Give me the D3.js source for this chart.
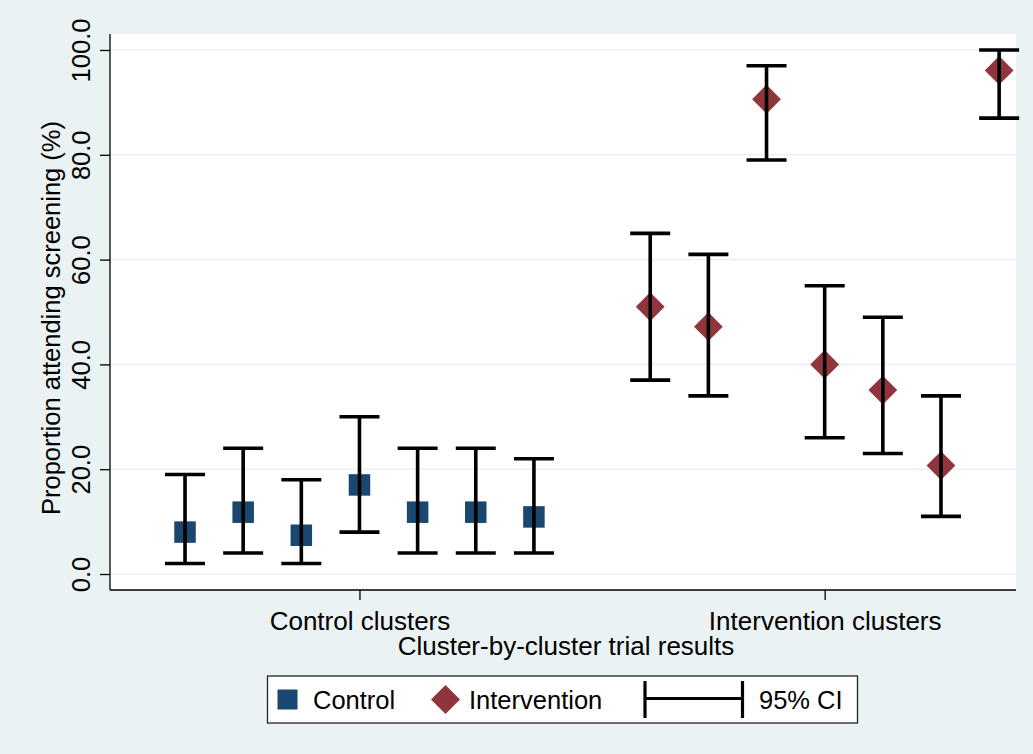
<!DOCTYPE html>
<html>
<head>
<meta charset="utf-8">
<script src="https://cdn.jsdelivr.net/npm/d3@7"></script>
<style>
  html, body { margin: 0; padding: 0; background: #eaf2f3; }
  svg { display: block; }
  text { font-family: "Liberation Sans", Arial, sans-serif; fill: #000; }
</style>
</head>
<body>
<svg id="chart" width="1033" height="754"></svg>
<script>
// Cluster-by-cluster attendance with 95% confidence intervals
const controlPos = [1, 2, 3, 4, 5, 6, 7];
const controlEst = [8.0, 11.8, 7.4, 17.0, 11.8, 11.8, 10.9];
const controlLo  = [2.0, 4.0, 2.0, 8.0, 4.0, 4.0, 4.0];
const controlHi  = [19.0, 24.0, 18.0, 30.0, 24.0, 24.0, 22.0];

const interventionPos = [9, 10, 11, 12, 13, 14, 15];
const interventionEst = [51.0, 47.2, 90.6, 40.0, 35.1, 20.7, 96.1];
const interventionLo  = [37.0, 34.0, 79.0, 26.0, 23.0, 11.0, 87.0];
const interventionHi  = [65.0, 61.0, 97.0, 55.0, 49.0, 34.0, 100.0];

const yTicks = [0, 20, 40, 60, 80, 100];
const xTickValues = [4, 12];
const xTickLabels = ["Control clusters", "Intervention clusters"];
const legendLabels = ["Control", "Intervention", "95% CI"];

const colControl = "#1a476f";
const colIntervention = "#90353b";
const bg = "#eaf2f3";

const svg = d3.select("#chart");
const W = 1033, H = 754;
const plot = { left: 110, right: 1016, top: 34, bottom: 590 };

svg.append("rect").attr("width", W).attr("height", H).attr("fill", bg);
svg.append("rect")
  .attr("x", plot.left).attr("y", plot.top)
  .attr("width", plot.right - plot.left).attr("height", plot.bottom - plot.top)
  .attr("fill", "#fff");

const x = d3.scaleLinear().domain([-0.29, 15.29]).range([plot.left, plot.right]);
const y = d3.scaleLinear().domain([-3.05, 103.05]).range([plot.bottom, plot.top]);

// horizontal grid
svg.append("g").selectAll("line").data(yTicks).join("line")
  .attr("x1", plot.left).attr("x2", plot.right)
  .attr("y1", d => y(d)).attr("y2", d => y(d))
  .attr("stroke", bg).attr("stroke-width", 1.6);

// y axis
const yAxis = svg.append("g").attr("transform", `translate(${plot.left},0)`)
  .call(d3.axisLeft(y).tickValues(yTicks).tickFormat(d3.format(".1f")).tickSize(10).tickPadding(10));
yAxis.select(".domain").attr("d", `M0,${plot.top}V${plot.bottom}`).attr("stroke", "#000").attr("stroke-width", 1.3);
yAxis.selectAll(".tick line").attr("stroke", "#000").attr("stroke-width", 1.3);
yAxis.selectAll(".tick text")
  .attr("font-size", 25.5).attr("font-family", "Liberation Sans, Arial, sans-serif").attr("fill", "#000")
  .attr("x", null).attr("dy", null)
  .attr("transform", "translate(-20,0) rotate(-90)")
  .attr("text-anchor", "middle").attr("y", 0);

// x axis
const xAxis = svg.append("g").attr("transform", `translate(0,${plot.bottom})`)
  .call(d3.axisBottom(x).tickValues(xTickValues).tickFormat((d, i) => xTickLabels[i]).tickSize(10).tickPadding(10));
xAxis.select(".domain").attr("d", `M${plot.left},0H${plot.right}`).attr("stroke", "#000").attr("stroke-width", 1.3);
xAxis.selectAll(".tick line").attr("stroke", "#000").attr("stroke-width", 1.3);
xAxis.selectAll(".tick text")
  .attr("font-size", 26).attr("font-family", "Liberation Sans, Arial, sans-serif").attr("fill", "#000")
  .attr("dy", null).attr("y", 40);

// axis titles
svg.append("text")
  .attr("transform", `translate(60,${(plot.top + plot.bottom) / 2 + 6}) rotate(-90)`)
  .attr("text-anchor", "middle").attr("font-size", 25.5)
  .text("Proportion attending screening (%)");
svg.append("text")
  .attr("x", (plot.left + plot.right) / 2 + 3).attr("y", 655)
  .attr("text-anchor", "middle").attr("font-size", 26)
  .text("Cluster-by-cluster trial results");

const control = controlPos.map((p, i) => ({ p, est: controlEst[i], lo: controlLo[i], hi: controlHi[i] }));
const intervention = interventionPos.map((p, i) => ({ p, est: interventionEst[i], lo: interventionLo[i], hi: interventionHi[i] }));

// markers
const sq = 21.5;
svg.append("g").selectAll("rect").data(control).join("rect")
  .attr("x", d => x(d.p) - sq / 2).attr("y", d => y(d.est) - sq / 2)
  .attr("width", sq).attr("height", sq).attr("fill", colControl);

const dm = 14.4;
svg.append("g").selectAll("path").data(intervention).join("path")
  .attr("d", d => `M${x(d.p)},${y(d.est) - dm}L${x(d.p) + dm},${y(d.est)}L${x(d.p)},${y(d.est) + dm}L${x(d.p) - dm},${y(d.est)}Z`)
  .attr("fill", colIntervention);

// confidence intervals drawn over the markers
const cap = 20;
svg.append("g").attr("stroke", "#000").attr("stroke-width", 3.6).attr("fill", "none")
  .selectAll("path").data(control.concat(intervention)).join("path")
  .attr("d", d => `M${x(d.p)},${y(d.hi)}V${y(d.lo)}M${x(d.p) - cap},${y(d.hi)}H${x(d.p) + cap}M${x(d.p) - cap},${y(d.lo)}H${x(d.p) + cap}`);

// legend
const lg = svg.append("g");
lg.append("rect").attr("x", 267.5).attr("y", 676).attr("width", 590).attr("height", 47)
  .attr("fill", "#fff").attr("stroke", "#222").attr("stroke-width", 1.3);
const ly = 699.5;
lg.append("rect").attr("x", 277.5).attr("y", ly - 10).attr("width", 20).attr("height", 20).attr("fill", colControl);
lg.append("text").attr("x", 313).attr("y", ly + 9).attr("font-size", 25.5).text(legendLabels[0]);
lg.append("path")
  .attr("d", `M445.5,${ly - 14.5}L460,${ly}L445.5,${ly + 14.5}L431,${ly}Z`)
  .attr("fill", colIntervention);
lg.append("text").attr("x", 469).attr("y", ly + 9).attr("font-size", 25.5).text(legendLabels[1]);
lg.append("path")
  .attr("d", `M645,681V718M742.5,681V718M645,${ly - 1}H742.5`)
  .attr("stroke", "#000").attr("stroke-width", 3.2).attr("fill", "none");
lg.append("text").attr("x", 759).attr("y", ly + 9).attr("font-size", 25.5).text(legendLabels[2]);
</script>
</body>
</html>
